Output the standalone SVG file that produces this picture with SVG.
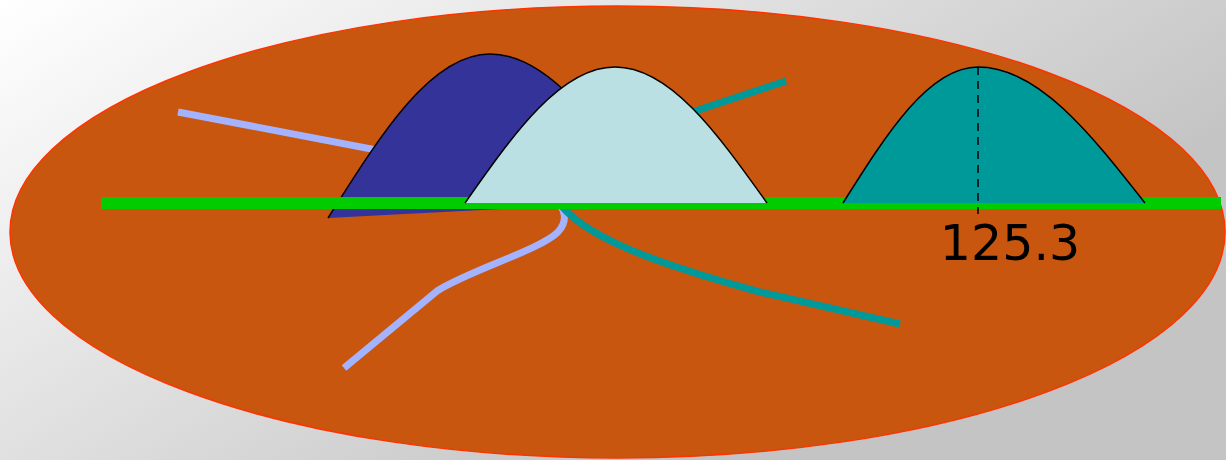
<svg xmlns="http://www.w3.org/2000/svg" width="1226" height="460" viewBox="0 0 1226 460">
<defs>
<linearGradient id="bg" gradientUnits="userSpaceOnUse" x1="0" y1="0" x2="390" y2="640">
<stop offset="0" stop-color="#ffffff"/>
<stop offset="1" stop-color="#c4c4c4"/>
</linearGradient>
<style>
.edge{fill:none;stroke:#000;stroke-width:1.5;stroke-linejoin:round}
.lb{fill:none;stroke:#a3b3ff;stroke-width:7}
.tl{fill:none;stroke:#009999;stroke-width:7}
</style>
</defs>
<rect id="background" x="0" y="0" width="1226" height="460" fill="url(#bg)"/>
<ellipse id="field" cx="617.5" cy="232" rx="607.5" ry="226" fill="#c8560f" stroke="#ff3300" stroke-width="1.5"/>
<g id="connectors">
<path class="lb" d="M178,112 L460,166"/>
<path class="tl" d="M786,81 L650,126"/>
<path class="lb" d="M344,368 L437,291 C470,270 540,250 558,232 C568,221 565,210 558,203"/>
<path class="tl" d="M557,200 C580,235 650,262 760,292 L900,324"/>
</g>
<g id="bell-blue">
<path fill="#333399" d="M328,218 C381,134 431,54 490,54 C549,54 599,126 652,201 Z"/>
<path class="edge" d="M328,218 C381,134 431,54 490,54 C549,54 599,126 652,201"/>
</g>
<rect id="axis" x="101" y="197" width="1120" height="12" fill="#00cc00"/>
<g id="bell-cyan">
<path fill="#bbe0e3" d="M465,203 C514,133 561,67 615,67 C670,67 717,133 767,203 Z"/>
<path class="edge" d="M465,203 C514,133 561,67 615,67 C670,67 717,133 767,203"/>
</g>
<g id="bell-teal">
<path fill="#009999" d="M843,203 C887,133 929,67 978,67 C1038,67 1090,133 1145,203 Z"/>
<path class="edge" d="M843,203 C887,133 929,67 978,67 C1038,67 1090,133 1145,203"/>
<line x1="978" y1="67" x2="978" y2="214" stroke="#000" stroke-width="1.5" stroke-dasharray="8 6"/>
<text x="1010" y="260" font-family="DejaVu Sans, Verdana, sans-serif" font-size="49" text-anchor="middle" fill="#000">125.3</text>
</g>
</svg>
